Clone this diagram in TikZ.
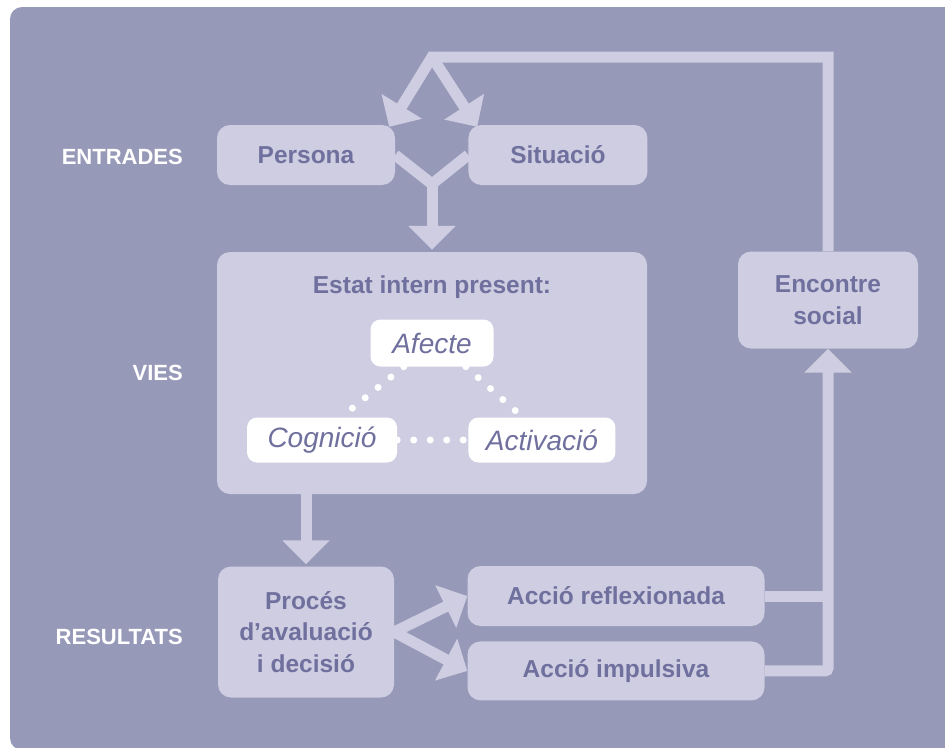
\documentclass[tikz,border=0pt]{standalone}
\usepackage{fontspec}
\setmainfont{Liberation Sans}
\usetikzlibrary{positioning,arrows.meta}

\definecolor{panel}{RGB}{151,153,185}
\definecolor{boxfill}{RGB}{206,205,225}
\definecolor{boxtext}{RGB}{112,112,158}

\begin{document}
\begin{tikzpicture}[
  x = 1pt, y = -1pt,
  light-box/.style={fill=boxfill, rounded corners=13pt, inner sep=0pt, align=center,
    text=boxtext, font=\fontsize{24.5}{31.5}\selectfont\bfseries},
  white-box/.style={fill=white, rounded corners=10pt, inner sep=0pt,
    text=boxtext, font=\fontsize{28}{32}\selectfont\itshape},
  side-label/.style={anchor=east, inner sep=0pt, text=white, font=\fontsize{22}{26}\selectfont\bfseries},
  pipe/.style={draw=boxfill, line width=11pt},
  big-arrow/.style={pipe, -{Triangle[width=46pt,length=24pt]}},
  dot-line/.style={draw=white, line width=7pt, line cap=round, dash pattern=on 0pt off 16.5pt},
  ]
  \useasboundingbox (0,0) rectangle (945,747);
  \fill[panel, rounded corners=12pt] (10,7) rectangle (960,750);

  % inputs
  \node[side-label] (entrades) at (183,157) {ENTRADES};
  \node[light-box, minimum width=178pt, minimum height=60pt] (persona) at (306,155) {Persona};
  \node[light-box, minimum width=179pt, minimum height=60pt, right=73pt of persona] (situacio) {Situació};

  % routes
  \node[side-label] (vies) at (183,373) {VIES};
  \node[light-box, minimum width=430pt, minimum height=242pt] (estat) at (432,373) {};
  \node[text=boxtext, font=\fontsize{24.5}{30}\selectfont\bfseries] (estat-title)
    at ([yshift=-35pt]estat.north) {Estat intern present:};
  \node[white-box, minimum width=123pt, minimum height=47pt] (afecte) at (432,343) {Afecte};
  \node[white-box, minimum width=150pt, minimum height=45pt] (cognicio) at (322,440) {Cognició};
  \node[white-box, minimum width=147pt, minimum height=45pt, right=71pt of cognicio] (activacio) {Activació};

  \draw[dot-line] (afecte.-140) -- (cognicio.50);
  \draw[dot-line] (afecte.-35) -- (activacio.130);
  \draw[dot-line] (cognicio) -- (activacio);

  % outcomes
  \node[side-label] (resultats) at (183,637) {RESULTATS};
  \node[light-box, minimum width=176pt, minimum height=131pt] (proces) at (306,632) {Procés\\d’avaluació\\i decisió};
  \node[light-box, minimum width=297pt, minimum height=60pt] (reflexionada) at (616,596) {Acció reflexionada};
  \node[light-box, minimum width=297pt, minimum height=59pt, below=15pt of reflexionada] (impulsiva) {Acció impulsiva};
  \node[light-box, minimum width=180pt, minimum height=97pt] (encontre) at (828,300) {Encontre\\social};

  \coordinate (merge) at (432,184);
  \coordinate (peak) at (432,57);

  \draw[pipe, line join=miter] (persona.east) -- (merge) -- (situacio.west);
  \draw[big-arrow, shorten >=2pt] (merge) -- (estat.north);
  \draw[big-arrow, shorten >=2pt] (proces.north |- estat.south) -- (proces.north);
  \draw[big-arrow] (proces.east) -- (reflexionada.west);
  \draw[big-arrow] (proces.east) -- (impulsiva.west);
  \draw[pipe] (reflexionada.east) -- (reflexionada.east -| encontre.south);
  \draw[big-arrow, rounded corners=3pt] (impulsiva.east) -| (encontre.south);
  \draw[big-arrow, line join=miter] (encontre.north) |- (peak)
    -- ([shift={(-6pt,-2pt)}]persona.north east);
  \draw[big-arrow] (peak) -- ([shift={(9pt,-2pt)}]situacio.north west);
\end{tikzpicture}
\end{document}
